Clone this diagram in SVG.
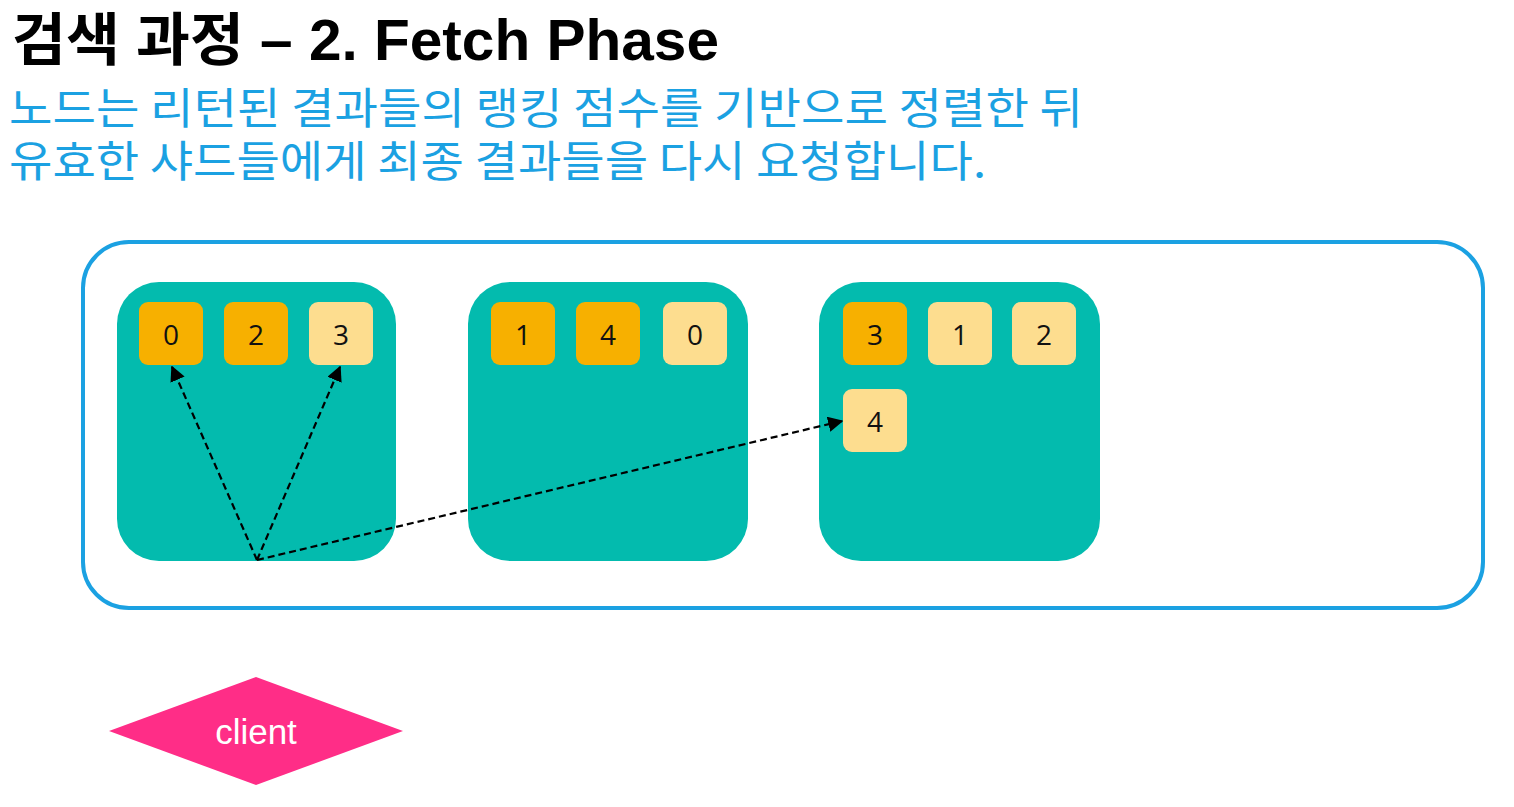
<svg xmlns="http://www.w3.org/2000/svg" width="1514" height="807" viewBox="0 0 1514 807">
<style>
.title{font-family:"Liberation Sans","Noto Sans CJK KR",sans-serif;font-weight:bold;font-size:57px;fill:#000}
.sub{font-family:"Noto Sans CJK KR","Liberation Sans",sans-serif;font-size:43px;fill:#1BA1E2}
.shard{fill:#03BBAE}
.p{fill:#F7B000}
.r{fill:#FDDD8F}
.num{font-family:"Open Sans","Noto Sans",sans-serif;font-size:28px;fill:#111;text-anchor:middle;dominant-baseline:central}
.conn{stroke:#000;stroke-width:2.2;stroke-dasharray:7 4;fill:none;marker-end:url(#ah)}
</style>
<defs>
<marker id="ah" viewBox="0 0 10 10" refX="9" refY="5" markerWidth="7" markerHeight="7" orient="auto" markerUnits="strokeWidth">
<path d="M0,0 L10,5 L0,10 z" fill="#000"/>
</marker>
</defs>
<rect width="1514" height="807" fill="#fff"/>
<text class="title" x="12" y="60" textLength="707" lengthAdjust="spacingAndGlyphs">검색 과정 – 2. Fetch Phase</text>
<text class="sub" x="9" y="124" textLength="1074" lengthAdjust="spacingAndGlyphs">노드는 리턴된 결과들의 랭킹 점수를 기반으로 정렬한 뒤</text>
<text class="sub" x="9" y="177" textLength="977" lengthAdjust="spacingAndGlyphs">유효한 샤드들에게 최종 결과들을 다시 요청합니다.</text>
<g id="cluster">
<rect x="83" y="242" width="1400" height="366" rx="46" fill="none" stroke="#1BA1E2" stroke-width="4"/>
</g>
<g id="node1">
<rect class="shard" x="117" y="282" width="279" height="279" rx="42"/>
<rect class="p" x="139" y="302" width="64" height="63" rx="9"/><text class="num" x="171" y="334">0</text>
<rect class="p" x="224" y="302" width="64" height="63" rx="9"/><text class="num" x="256" y="334">2</text>
<rect class="r" x="309" y="302" width="64" height="63" rx="9"/><text class="num" x="341" y="334">3</text>
</g>
<g id="node2">
<rect class="shard" x="468" y="282" width="280" height="279" rx="42"/>
<rect class="p" x="491" y="302" width="64" height="63" rx="9"/><text class="num" x="523" y="334">1</text>
<rect class="p" x="576" y="302" width="64" height="63" rx="9"/><text class="num" x="608" y="334">4</text>
<rect class="r" x="663" y="302" width="64" height="63" rx="9"/><text class="num" x="695" y="334">0</text>
</g>
<g id="node3">
<rect class="shard" x="819" y="282" width="281" height="279" rx="42"/>
<rect class="p" x="843" y="302" width="64" height="63" rx="9"/><text class="num" x="875" y="334">3</text>
<rect class="r" x="928" y="302" width="64" height="63" rx="9"/><text class="num" x="960" y="334">1</text>
<rect class="r" x="1012" y="302" width="64" height="63" rx="9"/><text class="num" x="1044" y="334">2</text>
<rect class="r" x="843" y="389" width="64" height="63" rx="9"/><text class="num" x="875" y="421">4</text>
</g>
<g id="connectors">
<line class="conn" x1="257" y1="560" x2="172" y2="367"/>
<line class="conn" x1="257" y1="560" x2="340" y2="367"/>
<line class="conn" x1="257" y1="560" x2="842" y2="421"/>
</g>
<g id="client">
<polygon points="109,731 256,677 403,731 256,785" fill="#FF2D87"/>
<text x="256" y="744" text-anchor="middle" font-family="Liberation Sans, Arial, sans-serif" font-size="35" fill="#fff">client</text>
</g>
</svg>
